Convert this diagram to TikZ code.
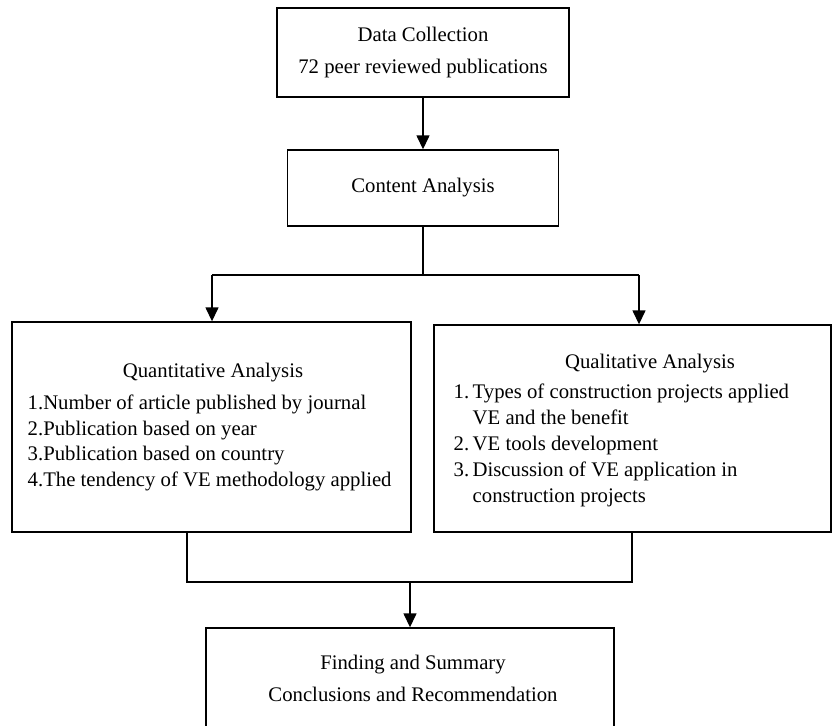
\documentclass[tikz,border=0pt]{standalone}
\usepackage{fontspec}
\setmainfont{Liberation Serif}
\usepackage{tikz}
\usetikzlibrary{positioning,calc,arrows.meta}

\begin{document}
\begin{tikzpicture}[x=0.02cm, y=-0.02cm, line width=0.8pt,
    box/.style={draw, line width=0.8pt},
    txt/.style={inner sep=0pt, font=\fontsize{11.8}{18.2}\selectfont, align=center},
    lst/.style={inner sep=0pt, font=\fontsize{11.8}{14.7}\selectfont, align=left},
    arr/.style={-{Triangle[width=0.26cm, length=0.28cm]}}]
    \path[use as bounding box, clip] (0,0) rectangle (832,726);

    % boxes
    \node [box, minimum width=5.84cm, minimum height=1.78cm] (DC) at (423,52.5) {};
    \node [box, minimum width=5.42cm, minimum height=1.52cm] (CA) at (423,188) {};
    \node [box, minimum width=7.98cm, minimum height=4.2cm] (QN) at (211.5,427) {};
    \node [box, minimum width=7.94cm, minimum height=4.14cm] (QL) at (632.5,428.5) {};
    \node [box, minimum width=8.16cm, minimum height=2.64cm] (FS) at (410,694) {};

    % texts
    \node [txt] (DCt) at (DC) {Data Collection\\72 peer reviewed publications};
    \node [txt] (CAt) at (CA) {Content Analysis};
    \node [txt] (QNt) at (213,373) {Quantitative Analysis};
    \node [lst, anchor=west] (QNl) at (27,443) {1.Number of article published by journal\\
        2.Publication based on year\\
        3.Publication based on country\\
        4.The tendency of VE methodology applied};
    \node [txt] (QLt) at (650,364) {Qualitative Analysis};
    \node [lst, anchor=west] (QLl) at (453,445.5) {1.\,Types of construction projects applied\\
        \phantom{1.\,}VE and the benefit\\
        2.\,VE tools development\\
        3.\,Discussion of VE application in\\
        \phantom{3.\,}construction projects};
    \node [txt] (FSt) at (413,678) {Finding and Summary\\Conclusions and Recommendation};

    % connectors
    \coordinate (sL) at (212,275);
    \coordinate (sR) at (639,275);
    \coordinate (mL) at (187,582);
    \coordinate (mR) at (632,582);
    \draw [arr] (DC.south) -- (CA.north);
    \draw (CA.south) -- (CA.south |- sL);
    \draw (sL) -- (sR);
    \draw [arr] (sL) -- (sL |- QN.north);
    \draw [arr] (sR) -- (sR |- QL.north);
    \draw (mL |- QN.south) -- (mL) -- (mR) -- (mR |- QL.south);
    \draw [arr] (FS.north |- mL) -- (FS.north);
\end{tikzpicture}
\end{document}
